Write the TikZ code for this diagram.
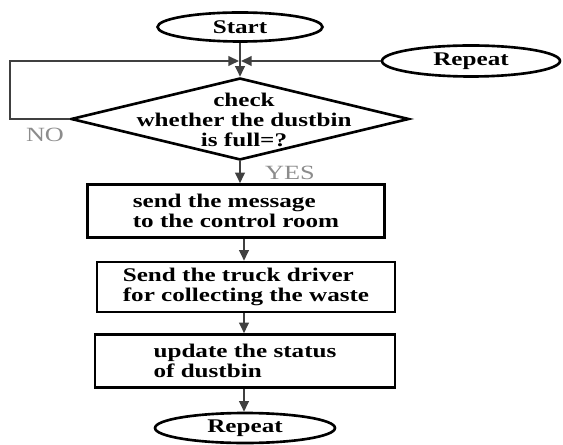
\documentclass[tikz,border=0pt]{standalone}
\usepackage{fontspec}
\setmainfont{Liberation Serif}[FakeStretch=1.3]
\usetikzlibrary{shapes.geometric, arrows.meta}

\tikzset{
    terminal/.style={ellipse, draw, line width=1.5pt, inner sep=1pt,
        font={\fontsize{11}{11.5}\selectfont\bfseries}},
    process/.style={rectangle, draw, line width=1.5pt, align=left,
        font={\fontsize{11}{11.5}\selectfont\bfseries}},
    decision/.style={diamond, draw, line width=1.5pt, inner sep=0pt},
    flow/.style={-{Triangle[length=6pt,width=5.5pt]}, line width=1.1pt, black!75},
    answer/.style={text=black!45, font={\fontsize{11.5}{12}\selectfont}},
}

\begin{document}
\begin{tikzpicture}[x=0.02cm, y=-0.02cm]
        \useasboundingbox (0,0) rectangle (563,445);

        \coordinate (join) at (240,61);
        \coordinate (loop) at (10,119);
        \coordinate (axis) at (244,0);

        \node[terminal, minimum width=3.3cm, minimum height=0.58cm] (start) at (240,27) {Start};
        \node[terminal, minimum width=3.56cm, minimum height=0.62cm] (again) at (471,61) {Repeat};
        \node[decision, minimum width=6.76cm, minimum height=1.64cm] (check) at (240,119) {};
        \node[align=center, inner sep=0pt, font={\fontsize{11}{11.5}\selectfont\bfseries}] (checktext) at (244,120) {check\\ whether the dustbin\\ is full=?};
        \node[process, minimum width=5.94cm, minimum height=1.06cm] (message) at (236,211) {send the message\\ to the control room};
        \node[process, minimum width=5.96cm, minimum height=1.0cm] (truck) at (246,287) {Send the truck driver\\ for collecting the waste};
        \node[process, minimum width=6.0cm, minimum height=1.06cm] (status) at (245,361) {update the status\\ of dustbin};
        \node[terminal, minimum width=3.6cm, minimum height=0.6cm] (repeat) at (245,428) {Repeat};

        \node[answer] (no) at (45,135) {NO};
        \node[answer] (yes) at (290,173) {YES};

        \draw[flow] (start) -- (check);
        \draw[flow, shorten >=0.6pt] (check.west) -- (loop) |- (join);
        \draw[flow, shorten >=0.6pt] (again.west) -- (join);
        \draw[flow] (check.south) -- (check.south |- message.north);
        \draw[flow] (message.south -| axis) -- (truck.north -| axis);
        \draw[flow] (truck.south -| axis) -- (status.north -| axis);
        \draw[flow] (status.south -| axis) -- (repeat.north -| axis);
    \end{tikzpicture}
\end{document}
